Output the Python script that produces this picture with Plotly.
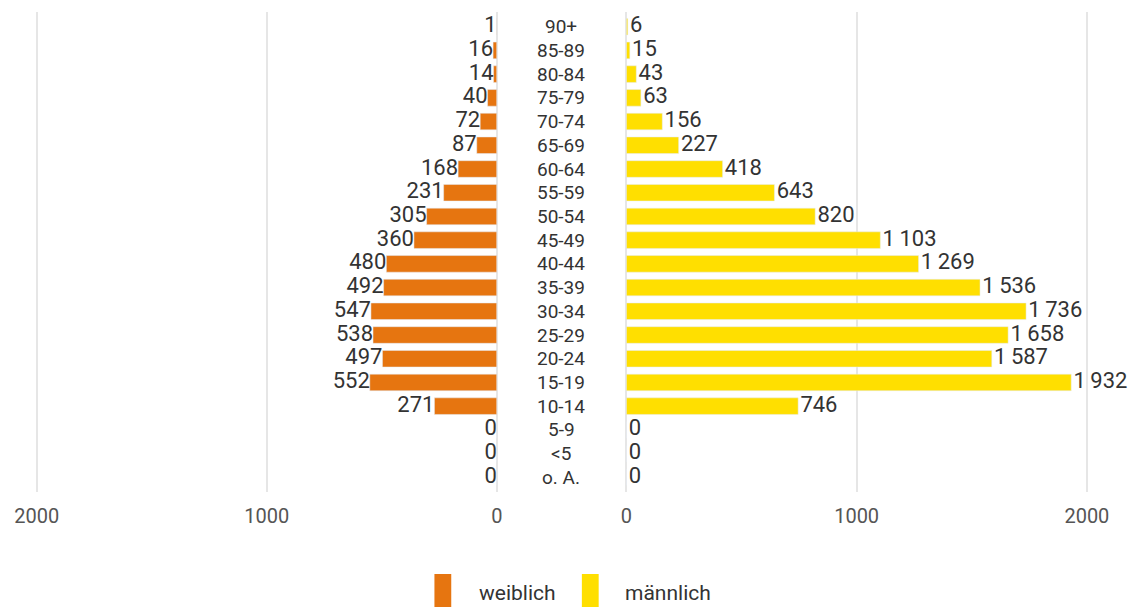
import plotly.graph_objects as go
from plotly.subplots import make_subplots

age_groups = ["90+", "85-89", "80-84", "75-79", "70-74", "65-69", "60-64", "55-59",
              "50-54", "45-49", "40-44", "35-39", "30-34", "25-29", "20-24", "15-19",
              "10-14", "5-9", "<5", "o. A."]
female = [1, 16, 14, 40, 72, 87, 168, 231, 305, 360, 480, 492, 547, 538, 497, 552,
          271, 0, 0, 0]
male = [6, 15, 43, 63, 156, 227, 418, 643, 820, 1103, 1269, 1536, 1736, 1658, 1587,
        1932, 746, 0, 0, 0]
ticks = [0, 1000, 2000]

ORANGE = "#E67510"
YELLOW = "#FFDF00"
TEXT = "#333333"
GRID = "#E6E6E6"
FONT = "Roboto"
W, H = 1137, 607
TOP, BOTTOM = 12, 492  # plot area in pixels


def fmt(v):
    # German style thin-space thousands separator
    return f"{v:,}".replace(",", "\u2009")


def px_y(py):
    # page pixel -> paper y (paper is the plot area)
    return (BOTTOM - py) / (BOTTOM - TOP)


fig = make_subplots(rows=1, cols=2, horizontal_spacing=0)

for col, values, color, name, pos, pad in [
    (1, female, ORANGE, "weiblich", "middle left", ""),
    (2, male, YELLOW, "männlich", "middle right", "\u200a"),
]:
    fig.add_trace(
        go.Bar(
            y=age_groups, x=values, orientation="h", name=name,
            marker={"color": color}, width=0.7, showlegend=False,
            hoverinfo="x+y",
        ),
        row=1, col=col,
    )
    fig.add_trace(
        go.Scatter(
            y=age_groups, x=values, mode="text", text=[pad + fmt(v) for v in values],
            textposition=pos, cliponaxis=False, showlegend=False, hoverinfo="skip",
            textfont={"family": FONT, "size": 22, "color": TEXT},
        ),
        row=1, col=col,
    )

fig.update_xaxes(
    tickvals=ticks, ticktext=[str(t) for t in ticks],
    showgrid=True, gridcolor=GRID, gridwidth=2,
    zeroline=True, zerolinecolor=GRID, zerolinewidth=2,
    showline=False, ticks="", ticklabelstandoff=10,
    tickfont={"family": FONT, "size": 20, "color": "#555555"},
)
fig.update_xaxes(domain=[2 / W, 496 / W], range=[2125, 0], row=1, col=1)
fig.update_xaxes(domain=[627 / W, 1121.5 / W], range=[0, 2125], row=1, col=2)

fig.update_yaxes(
    categoryorder="array", categoryarray=age_groups[::-1],
    range=[-0.62, len(age_groups) - 0.38],
    showticklabels=False, showgrid=False, zeroline=False, ticks="",
)

# age group labels in the centre gap
for g in age_groups:
    fig.add_annotation(
        x=561 / W, xref="paper", y=g, yref="y", text=g, showarrow=False,
        font={"family": FONT, "size": 19, "color": TEXT},
    )

# legend swatches
legend_items = [("weiblich", ORANGE, 433, 476), ("männlich", YELLOW, 582, 624)]
for label, color, sx, tx in legend_items:
    fig.add_shape(
        type="rect", xref="paper", yref="paper",
        x0=sx / W, x1=(sx + 17) / W, y0=px_y(610), y1=px_y(574),
        fillcolor=color, line={"width": 0},
    )
    fig.add_annotation(
        x=tx / W, xref="paper", y=px_y(593), yref="paper", text=label,
        showarrow=False, xanchor="left", yanchor="middle",
        font={"family": FONT, "size": 21, "color": TEXT},
    )

fig.update_layout(
    width=W, height=H,
    margin={"l": 0, "r": 0, "t": TOP, "b": H - BOTTOM},
    plot_bgcolor="white", paper_bgcolor="white",
)

fig.write_html("out.html", config={"displayModeBar": False})

# drop the default page margin so the figure sits at the window's corner
with open("out.html", encoding="utf-8") as f:
    html = f.read()
html = html.replace("<head>", "<head><style>body{margin:0;overflow:hidden}</style>", 1)
with open("out.html", "w", encoding="utf-8") as f:
    f.write(html)
